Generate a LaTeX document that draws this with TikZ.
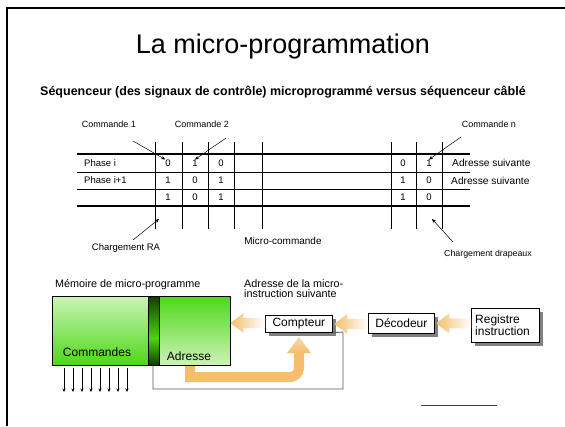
\documentclass[tikz,border=0pt]{standalone}
\usepackage{fontspec}
\setmainfont{Liberation Sans}
\usetikzlibrary{arrows.meta,calc}
\definecolor{ora}{HTML}{F4BE6C}
\definecolor{oralight}{HTML}{F8D9A8}
\definecolor{gtop}{HTML}{CCF3B6}
\definecolor{gbot}{HTML}{4ED818}
\definecolor{gdark}{HTML}{113A00}
\definecolor{gbright}{HTML}{48D808}
\definecolor{shadowgray}{HTML}{808080}
\newcommand{\fs}[1]{\fontsize{#1}{#1}\selectfont}
\tikzset{
  lbl/.style={inner sep=0pt, font=\fs{9.5}},
  clbl/.style={inner sep=0pt, font=\fs{9}},
  mlbl/.style={inner sep=0pt, font=\fs{10.8}},
  dig/.style={inner sep=0pt, font=\fs{9.5}},
  tline/.style={line width=0.7pt},
  tlinebold/.style={line width=1.1pt},
  vline/.style={line width=0.7pt},
  ptr/.style={line width=0.5pt, -{Stealth[length=4pt,width=3.5pt]}},
  wbox/.style={draw=black, line width=0.8pt, fill=white, inner sep=2pt, font=\fs{12}, align=left},
}
\begin{document}
\begin{tikzpicture}[x=1pt,y=-1pt]
\useasboundingbox (0,0) rectangle (565,426);
% frame
\draw[line width=2.6pt] (7,426) -- (7,8) -- (566,8);

% title
\node[inner sep=0pt, font=\fs{27}] (title) at (283,47) {La micro-programmation};
\node[inner sep=0pt, font=\bfseries\fs{12.5}] (sub) at (283,92) {Séquenceur (des signaux de contrôle) microprogrammé versus séquenceur câblé};

% table lines
\draw[tlinebold] (77,154) -- (470,154);
\draw[tline] (77,172) -- (470,172);
\draw[tline] (77,189) -- (470,189);
\draw[tlinebold] (77,206) -- (470,206);
\foreach \x in {155,182,208,234,262,391,416,442}
  \draw[vline] (\x,142) -- (\x,229);

% digits
\node[dig] (c1a) at (168,163) {0};
\node[dig] (c1b) at (168,180) {1};
\node[dig] (c1c) at (168,197) {1};
\node[dig] (c2a) at (195,163) {1};
\node[dig] (c2b) at (195,180) {0};
\node[dig] (c2c) at (195,197) {0};
\node[dig] (c3a) at (221,163) {0};
\node[dig] (c3b) at (221,180) {1};
\node[dig] (c3c) at (221,197) {1};
\node[dig] (cma) at (403,163) {0};
\node[dig] (cmb) at (403,180) {1};
\node[dig] (cmc) at (403,197) {1};
\node[dig] (cna) at (429,163) {1};
\node[dig] (cnb) at (429,180) {0};
\node[dig] (cnc) at (429,197) {0};

% row labels
\node[lbl, anchor=west] (ph1) at (84,163) {Phase i};
\node[lbl, anchor=west] (ph2) at (84,180) {Phase i+1};
\node[lbl, anchor=west, font=\fs{10.2}] (as1) at (452,163) {Adresse suivante};
\node[lbl, anchor=west, font=\fs{10.2}] (as2) at (451,181) {Adresse suivante};

% command labels
\node[clbl] (cmd1) at (109,124) {Commande 1};
\node[clbl] (cmd2) at (202,124) {Commande 2};
\node[clbl] (cmdn) at (489,124) {Commande n};
\coordinate (k1) at (133,141);
\coordinate (k2) at (226,138);
\coordinate (kn) at (461,137);
\draw[ptr] (k1) -- (c1a.north west);
\draw[ptr] (k2) -- (c2a.north);
\draw[ptr] (kn) -- (cna.north);

% bottom labels of table
\node[lbl] (cra) at (126,248) {Chargement RA};
\node[lbl, font=\fs{10}] (mc) at (283,241) {Micro-commande};
\node[lbl, font=\fs{8.8}] (cdr) at (488,254) {Chargement drapeaux};
\coordinate (rat) at (159,219);
\coordinate (drt) at (432,219);
\draw[ptr] (133,240) -- (rat);
\draw[ptr] (453,242) -- (drt);

% memory
\node[mlbl, anchor=west] (mem) at (55,285) {Mémoire de micro-programme};
\shade[top color=gtop, bottom color=gbot] (52,296) rectangle (148,365);
\shade[top color=gdark, bottom color=gbright] (148,296) rectangle (159,338);
\shade[top color=gbright, bottom color=gdark] (159,338) rectangle (148,365);
\shade[top color=gbot, bottom color=gtop] (159,296) rectangle (230,365);
\draw[line width=0.9pt] (52,296) rectangle (230,365);
\draw[line width=0.9pt] (148,296) -- (148,365) (159,296) -- (159,365);
\coordinate (memR) at (230,323);
\coordinate (barB) at (153,365);
\node[inner sep=0pt, font=\fs{12}] (cmds) at (97,352) {Commandes};
\node[inner sep=0pt, font=\fs{12}] (adr) at (189,356) {Adresse};

% output arrows
\foreach \i in {0,...,7}
  \draw[line width=0.5pt, -{Stealth[length=3.5pt,width=3pt]}] ({64+9*\i},368) -- ({64+9*\i},392);

% boxes
\fill[shadowgray] (269,319) rectangle (336,336);
\fill[shadowgray] (372,317) rectangle (438,337);
\fill[shadowgray] (475,312) rectangle (543,346);
\node[wbox, minimum width=67, minimum height=17, anchor=north west] (cpt) at (265,315) {};
\node[font=\fs{12}, inner sep=0pt] at (cpt.center) {Compteur};
\node[wbox, minimum width=66, minimum height=20, anchor=north west] (dec) at (368,313) {};
\node[font=\fs{12}, inner sep=0pt] at (dec.center) {Décodeur};
\node[wbox, minimum width=68, minimum height=34, anchor=north west] (reg) at (471,308) {};
\node[font=\fs{12}, inner sep=0pt, align=left, anchor=west] at ($(reg.west)+(4,0)$) {Registre\\instruction};

\node[mlbl, anchor=north west, align=left] (nxt) at (244,279) {Adresse de la micro-\\instruction suivante};

% fading block arrows
\newcommand{\blockarrow}[2]{%
  \shade[left color=ora, right color=white]
    ($(#2)+(0.5,0)$) -- ++(13,-10) -- ++(0,5) -- ($(#1 |- #2)+(0,-5)$)
    -- ++(0,10) -- ($(#2)+(13.5,5)$) -- ++(0,5) -- cycle;}
\coordinate (decE) at ($(dec.east)+(1,0)$);
\coordinate (cptE) at ($(cpt.east)+(1,0)$);
\blockarrow{reg.west}{decE}
\blockarrow{dec.west}{cptE}
\blockarrow{cpt.west}{memR}

% L shaped feedback arrow
\draw[ora, line width=10pt] (190,366) -- (190,377) [rounded corners=9pt] -- (299,377) -- (299,352);
\shade[top color=oralight, bottom color=ora] (287,353) -- (311,353) -- (299,337) -- cycle;

% gray return line
\draw[line width=0.8pt, black!65] (barB) -- (153,389) -- (343,389) -- (343,332) -- (cpt.south east);

% small line
\draw[line width=0.7pt, black!75] (421,405) -- (497,405);
\end{tikzpicture}
\end{document}
